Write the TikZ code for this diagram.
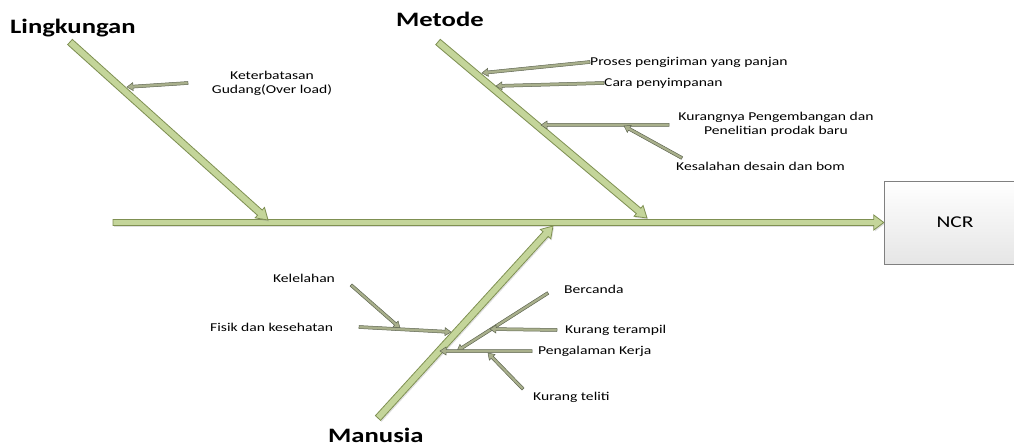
\documentclass[tikz,border=0pt]{standalone}
\usepackage{fontspec}
\setmainfont{Carlito}[FakeStretch=1.3]
\usetikzlibrary{calc,shadows}

\definecolor{tulangisi}{HTML}{C4D59A}
\definecolor{tulanggaris}{HTML}{7F9052}
\definecolor{panahisi}{HTML}{A9B08C}
\definecolor{panahgaris}{HTML}{5F6651}

% #1 gaya, #2 dari, #3 ke, #4 setengah lebar batang, #5 setengah lebar kepala, #6 panjang kepala
\newcommand{\blokpanah}[6]{%
	\coordinate (kp) at ($(#3)!#6!(#2)$);
	\filldraw[#1] ($(#2)!#4!90:(#3)$) -- ($(kp)!#4!90:(#3)$) -- ($(kp)!#5!90:(#3)$) -- (#3)
		-- ($(kp)!#5!-90:(#3)$) -- ($(kp)!#4!-90:(#3)$) -- ($(#2)!#4!-90:(#3)$) -- cycle;
}

\begin{document}
\begin{tikzpicture}[x=1pt,y=-1pt,
	tulang/.style={fill=tulangisi,draw=tulanggaris,line width=.8pt,
		drop shadow={shadow xshift=1pt,shadow yshift=-1.5pt,opacity=.25}},
	cabang/.style={fill=panahisi,draw=panahgaris,line width=.5pt},
	ket/.style={font=\fontsize{12}{14}\selectfont,inner sep=0pt},
	judul/.style={font=\fontsize{20.5}{24}\selectfont\bfseries,inner sep=0pt}]

	\useasboundingbox (0,0) rectangle (1014,446);

	% kepala
	\node[draw=black!50,top color=white,bottom color=black!10,minimum width=142pt,minimum height=83pt,
		drop shadow={shadow xshift=1.5pt,shadow yshift=-1.5pt,opacity=.25},font=\fontsize{16.5}{18}\selectfont]
		(ncr) at (955,222.5) {NCR};

	% tulang utama
	\coordinate (s1) at (113,222.5);
	\coordinate (s2) at (ncr.west);
	\blokpanah{tulang}{s1}{s2}{3pt}{7.5pt}{10pt}

	\coordinate (l1) at (70,42);
	\coordinate (l2) at (268,220);
	\blokpanah{tulang}{l1}{l2}{3.5pt}{7pt}{11pt}

	\coordinate (m1) at (438,42);
	\coordinate (m2) at (647,218);
	\blokpanah{tulang}{m1}{m2}{3.5pt}{7pt}{11pt}

	\coordinate (u1) at (378,418);
	\coordinate (u2) at (553,226);
	\blokpanah{tulang}{u1}{u2}{3.5pt}{7pt}{11pt}

	\node[judul,anchor=base west] (lingkungan) at (10,34) {Lingkungan};
	\node[judul,anchor=base west] (metode) at (396,27) {Metode};
	\node[judul,anchor=base west] (manusia) at (328,442) {Manusia};

	% Lingkungan
	\node[ket,align=center] (gudang) at (272,83) {Keterbatasan\\Gudang(Over load)};
	\coordinate (g1) at (188,83);
	\coordinate (g2) at (127,87);
	\blokpanah{cabang}{g1}{g2}{1.5pt}{4pt}{6pt}

	% Metode
	\node[ket,anchor=west] (proses) at (590,62) {Proses pengiriman yang panjan};
	\node[ket,anchor=west] (cara) at (604,83) {Cara penyimpanan};
	\node[ket,align=center] (kurangnya) at (776,124.5) {Kurangnya Pengembangan dan\\Penelitian prodak baru};
	\node[ket,anchor=west] (desain) at (676,166) {Kesalahan desain dan bom};

	\coordinate (p1) at (proses.west);
	\coordinate (p2) at (482,73);
	\blokpanah{cabang}{p1}{p2}{1.5pt}{4pt}{6pt}
	\coordinate (c1) at (cara.west);
	\coordinate (c2) at (496,86);
	\blokpanah{cabang}{c1}{c2}{1.5pt}{4pt}{6pt}
	\coordinate (k1) at (669,125);
	\coordinate (k2) at (541,125);
	\blokpanah{cabang}{k1}{k2}{1.5pt}{4pt}{6pt}
	\coordinate (d1) at (682,158);
	\coordinate (d2) at (624,126);
	\blokpanah{cabang}{d1}{d2}{1.5pt}{4pt}{6pt}

	% Manusia
	\node[ket] (lelah) at (304,278) {Kelelahan};
	\node[ket,anchor=west] (fisik) at (210,327) {Fisik dan kesehatan};
	\node[ket,anchor=west] (canda) at (564,289) {Bercanda};
	\node[ket,anchor=west] (terampil) at (565,330) {Kurang terampil};
	\node[ket,anchor=west] (kerja) at (538,351) {Pengalaman Kerja};
	\node[ket,anchor=west] (teliti) at (533,397) {Kurang teliti};

	\coordinate (e1) at (351,285);
	\coordinate (e2) at (400,328);
	\blokpanah{cabang}{e1}{e2}{1.5pt}{4pt}{6pt}
	\coordinate (f1) at (359,327);
	\coordinate (f2) at (451,332);
	\blokpanah{cabang}{f1}{f2}{1.5pt}{4pt}{6pt}
	\coordinate (b1) at (548,293);
	\coordinate (b2) at (457,351);
	\blokpanah{cabang}{b1}{b2}{1.5pt}{4pt}{6pt}
	\coordinate (t1) at (557,330);
	\coordinate (t2) at (490,329);
	\blokpanah{cabang}{t1}{t2}{1.5pt}{4pt}{6pt}
	\coordinate (j1) at (532,351);
	\coordinate (j2) at (440,351);
	\blokpanah{cabang}{j1}{j2}{1.5pt}{4pt}{6pt}
	\coordinate (i1) at (523,389);
	\coordinate (i2) at (488,353);
	\blokpanah{cabang}{i1}{i2}{1.5pt}{4pt}{6pt}

\end{tikzpicture}
\end{document}
